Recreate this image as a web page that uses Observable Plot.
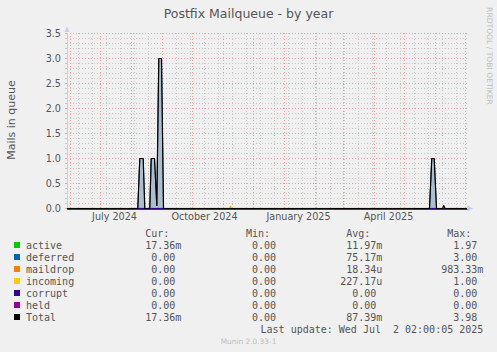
<!DOCTYPE html>
<html><head><meta charset="utf-8">
<script src="https://cdn.jsdelivr.net/npm/d3@7"></script>
<script src="https://cdn.jsdelivr.net/npm/@observablehq/plot@0.6"></script>
<style>
html,body{margin:0;padding:0;background:#f0f0f0;}
#wrap{position:relative;width:497px;height:352px;overflow:hidden;font-family:"DejaVu Sans",sans-serif;color:#555;background:#f0f0f0;}
#chart{position:absolute;left:0;top:0;}
.abs{position:absolute;white-space:pre;}
#title{left:0;width:497px;text-align:center;top:7.7px;font-size:12.5px;line-height:12.5px;color:#555;}
#ylab{left:11px;top:120px;font-size:11px;line-height:11px;transform:translate(-50%,-50%) rotate(-90deg);color:#555;}
#rrd{left:489px;top:56px;font-size:7.6px;line-height:7.6px;transform:translate(-50%,-50%) rotate(90deg);color:#bdbdbd;}
#legend{position:absolute;left:0;top:228px;width:497px;font-family:"DejaVu Sans Mono",monospace;font-size:10px;line-height:12px;color:#555;}
#legend .row{position:absolute;left:0;width:497px;height:12px;}
#legend .sq{position:absolute;left:14px;top:2px;width:6px;height:6px;}
#legend .nm{position:absolute;left:26px;top:0;white-space:pre;}
#legend .cell{position:absolute;top:0;white-space:pre;text-align:right;}
#munin{left:0;width:497px;text-align:center;top:337.7px;font-size:7.4px;line-height:7.4px;color:#bdbdbd;}
#deco{position:absolute;left:0;top:0;}
</style></head>
<body>
<div id="wrap">
  <div id="chart"></div>
  <svg id="deco" width="497" height="352"></svg>
  <div id="title" class="abs">Postfix Mailqueue - by year</div>
  <div id="ylab" class="abs">Mails in queue</div>
  <div id="rrd" class="abs">RRDTOOL / TOBI OETIKER</div>
  <div id="legend"></div>
  <div id="munin" class="abs">Munin 2.0.33-1</div>
</div>
<script>
// ---- data ----
const xDomain = ["2024-05-29T00:00Z", "2025-07-03T00:00Z"];
const yTickValues = [0, 0.5, 1, 1.5, 2, 2.5, 3, 3.5];
const xLabelDates = ["2024-07-15T00:00Z", "2024-10-13T00:00Z", "2025-01-15T00:00Z", "2025-04-15T00:00Z"];
const xLabelTexts = ["July 2024", "October 2024", "January 2025", "April 2025"];

const totalDates = ["2024-05-29T00:00Z","2024-08-07T07:00Z","2024-08-09T07:00Z","2024-08-12T17:00Z","2024-08-14T07:00Z","2024-08-19T07:00Z","2024-08-20T17:00Z","2024-08-24T00:00Z","2024-08-26T07:00Z","2024-08-28T07:00Z","2024-08-31T00:00Z","2024-09-02T00:00Z","2025-05-26T00:00Z","2025-05-28T07:00Z","2025-05-30T17:00Z","2025-06-02T00:00Z","2025-06-08T00:00Z","2025-06-09T07:00Z","2025-06-10T12:00Z","2025-07-03T00:00Z"];
const totalValues = [0,0,1,1,0,0,1,1,0.06,3,3,0,0,1,1,0,0,0.06,0,0];

const deferredDates = ["2024-05-29T00:00Z","2024-08-07T07:00Z","2024-08-09T07:00Z","2024-08-12T17:00Z","2024-08-14T07:00Z","2024-08-19T07:00Z","2024-08-20T17:00Z","2024-08-24T00:00Z","2024-08-26T07:00Z","2024-08-28T07:00Z","2024-08-31T00:00Z","2024-09-02T00:00Z","2025-05-26T00:00Z","2025-05-28T07:00Z","2025-05-30T17:00Z","2025-06-02T00:00Z","2025-07-03T00:00Z"];
const deferredValues = [0,0,1,1,0,0,1,1,0.05,3,3,0,0,1,1,0,0];

const activeDates = ["2024-05-29T00:00Z","2024-08-07T12:00Z","2024-08-08T00:00Z","2024-08-13T00:00Z","2024-08-13T12:00Z","2024-08-18T12:00Z","2024-08-19T00:00Z","2024-08-31T12:00Z","2024-09-01T00:00Z","2025-05-26T12:00Z","2025-05-27T00:00Z","2025-06-02T00:00Z","2025-06-02T12:00Z","2025-07-03T00:00Z"];
const activeValues = [0,0,0.02,0.02,0,0,0.02,0.02,0,0,0.02,0.02,0,0];

const incomingDates = ["2024-05-29T00:00Z","2024-11-07T00:00Z","2024-11-08T00:00Z","2024-11-09T00:00Z","2025-07-03T00:00Z"];
const incomingValues = [0,0,0.04,0,0];

const maildropDates = ["2024-05-29T00:00Z","2025-07-03T00:00Z"];
const maildropValues = [0,0];
const corruptDates = ["2024-05-29T00:00Z","2025-07-03T00:00Z"];
const corruptValues = [0,0];
const heldDates = ["2024-05-29T00:00Z","2025-07-03T00:00Z"];
const heldValues = [0,0];

const legendNames = ["active","deferred","maildrop","incoming","corrupt","held","Total"];
const legendColors = ["#00cc00","#0066b3","#ff8000","#ffcc00","#330099","#990099","#000000"];
const curValues = ["17.36m","0.00 ","0.00 ","0.00 ","0.00 ","0.00 ","17.36m"];
const minValues = ["0.00 ","0.00 ","0.00 ","0.00 ","0.00 ","0.00 ","0.00 "];
const avgValues = ["11.97m","75.17m","18.34u","227.17u","0.00 ","0.00 ","87.39m"];
const maxValues = ["1.97 ","3.00 ","983.33m","1.00 ","0.00 ","0.00 ","3.98 "];
const columnHeaders = ["Cur:","Min:","Avg:","Max:"];
const lastUpdate = "Last update: Wed Jul  2 02:00:05 2025";

// ---- build ----
const P = d3.isoParse;
const zip = (ds, vs) => ds.map((d, i) => ({date: P(d), value: vs[i]}));
const total = zip(totalDates, totalValues);
const deferred = zip(deferredDates, deferredValues);
const active = zip(activeDates, activeValues);
const incoming = zip(incomingDates, incomingValues);
const maildrop = zip(maildropDates, maildropValues);
const corrupt = zip(corruptDates, corruptValues);
const held = zip(heldDates, heldValues);

const x0 = P(xDomain[0]), x1 = P(xDomain[1]);
const monthStarts = d3.utcMonth.range(x0, x1);
const minorX = d3.utcSunday.range(P("2024-06-09T00:00Z"), x1, 2);
const minorY = d3.range(0, 36).map(i => i / 10);
const labelDates = xLabelDates.map(P);

const minorStyle = {stroke: "#c8c8c8", strokeDasharray: "1,2", strokeWidth: 1};
const majorStyle = {stroke: "#eba0a0", strokeDasharray: "1,2", strokeWidth: 1};
const axisColor = "#c8ccf4";

const chart = Plot.plot({
  width: 497, height: 226,
  marginLeft: 67, marginRight: 30, marginTop: 33, marginBottom: 18,
  style: {background: "transparent", fontFamily: "DejaVu Sans", fontSize: "9.65px", color: "#555", overflow: "visible"},
  x: {type: "utc", domain: [x0, x1]},
  y: {domain: [0, 3.5]},
  marks: [
    Plot.ruleY(minorY, {...minorStyle}),
    Plot.ruleX(minorX, {...minorStyle}),
    Plot.ruleY(yTickValues.slice(1), {...majorStyle}),
    Plot.ruleX(monthStarts, {...majorStyle}),
    Plot.axisY(minorY, {tickSize: 2, tickFormat: () => "", stroke: "#c8c8c8", label: null}),
    Plot.axisY(yTickValues, {tickSize: 2, tickPadding: 4.5, tickFormat: d => d.toFixed(1), stroke: "#e8a0a0", fill: "#555", label: null}),
    Plot.axisX(minorX, {tickSize: 2, tickFormat: () => "", stroke: "#c8c8c8", label: null}),
    Plot.axisX(monthStarts, {tickSize: 2, tickFormat: () => "", stroke: "#e8a0a0", label: null}),
    Plot.axisX(labelDates, {tickSize: 0, tickPadding: 5, tickFormat: (d, i) => xLabelTexts[i], fill: "#555", label: null}),
    Plot.ruleX([x0], {stroke: axisColor, strokeWidth: 1}),
    Plot.ruleY([0], {stroke: axisColor, strokeWidth: 1}),
    Plot.line(active, {x: "date", y: "value", stroke: "#00cc00", strokeWidth: 1}),
    Plot.areaY(deferred, {x: "date", y: "value", fill: "#9fb6c9", fillOpacity: 0.85}),
    Plot.line(deferred, {x: "date", y: "value", stroke: "#2a5575", strokeWidth: 1}),
    Plot.line(maildrop, {x: "date", y: "value", stroke: "#ff8000", strokeWidth: 1}),
    Plot.line(incoming, {x: "date", y: "value", stroke: "#e0b000", strokeWidth: 1.5}),
    Plot.line(corrupt, {x: "date", y: "value", stroke: "#330099", strokeWidth: 1}),
    Plot.line(held, {x: "date", y: "value", stroke: "#990099", strokeWidth: 1, dy: 1}),
    Plot.line(total, {x: "date", y: "value", stroke: "#000000", strokeWidth: 1.2})
  ]
});
document.getElementById("chart").appendChild(chart);

// decorative axis arrows
const deco = d3.select("#deco");
deco.append("polygon").attr("points", "64.5,32 69.5,32 67,26.5").attr("fill", axisColor);
deco.append("line").attr("x1", 467).attr("x2", 468).attr("y1", 208.5).attr("y2", 208.5).attr("stroke", axisColor);
deco.append("polygon").attr("points", "467.5,205.5 467.5,211.5 473,208.5").attr("fill", axisColor);

// legend
const colRight = [181.3, 282, 382.3, 483.3];
const legend = document.getElementById("legend");
function cell(row, text, right) {
  const s = document.createElement("span");
  s.className = "cell";
  s.style.right = (497 - right) + "px";
  s.textContent = text;
  row.appendChild(s);
}
function makeRow(i) {
  const r = document.createElement("div");
  r.className = "row";
  r.style.top = (12 * i) + "px";
  legend.appendChild(r);
  return r;
}
const header = makeRow(0);
columnHeaders.forEach((h, j) => cell(header, h + "  ", colRight[j]));
legendNames.forEach((name, i) => {
  const r = makeRow(i + 1);
  const sq = document.createElement("span");
  sq.className = "sq"; sq.style.background = legendColors[i];
  r.appendChild(sq);
  const nm = document.createElement("span");
  nm.className = "nm"; nm.textContent = name;
  r.appendChild(nm);
  [curValues[i], minValues[i], avgValues[i], maxValues[i]].forEach((v, j) => cell(r, v, colRight[j]));
});
const lu = makeRow(8);
cell(lu, lastUpdate, colRight[3]);
</script>
</body></html>
